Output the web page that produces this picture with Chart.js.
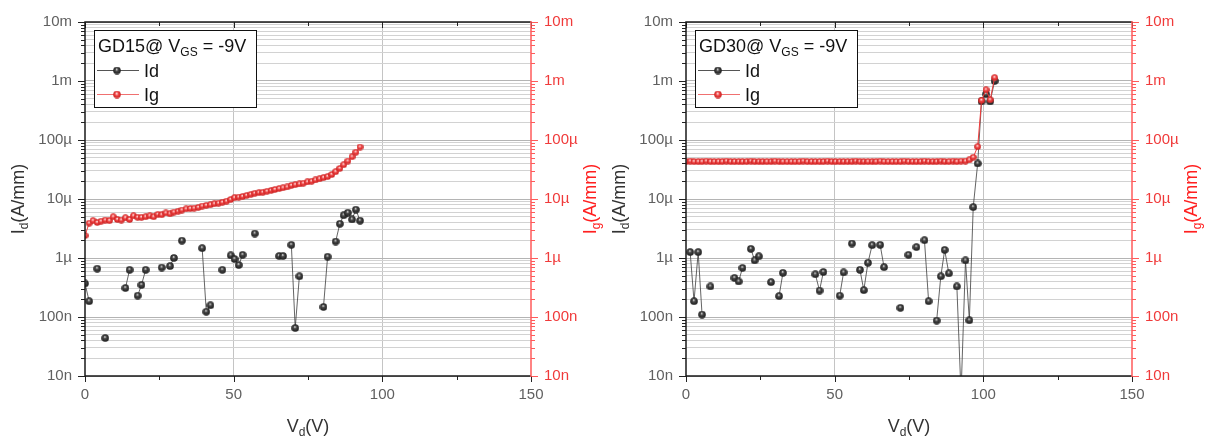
<!DOCTYPE html>
<html>
<head>
<meta charset="utf-8">
<script src="https://cdn.jsdelivr.net/npm/chart.js@4.4.0/dist/chart.umd.min.js"></script>
<style>
  html, body { margin: 0; padding: 0; background: #fff; overflow: hidden; }
  #wrap { position: relative; width: 1205px; height: 436px; }
  canvas { position: absolute; top: 0; }
  #c15 { left: 0; }
  #c30 { left: 601px; }
</style>
</head>
<body>
<div id="wrap">
  <canvas id="c15" width="604" height="436"></canvas>
  <canvas id="c30" width="604" height="436"></canvas>
</div>
<script>
// drain sweep (V) and currents (A/mm)
const vd15 = [
  0, 1.4, 2.7, 4.1, 5.4, 6.8, 8.2, 9.5, 10.9, 12.2,
  13.6, 15.0, 16.3, 17.7, 19.0, 20.4, 21.8, 23.1, 24.5, 25.8,
  27.2, 28.6, 29.9, 31.3, 32.6, 34.0, 35.4, 36.7, 38.1, 39.4,
  40.8, 42.2, 43.5, 44.9, 46.2, 47.6, 49.0, 50.3, 51.7, 53.0,
  54.4, 55.8, 57.1, 58.5, 59.8, 61.2, 62.6, 63.9, 65.3, 66.6,
  68.0, 69.4, 70.7, 72.1, 73.4, 74.8, 76.2, 77.5, 78.9, 80.2,
  81.6, 83.0, 84.3, 85.7, 87.0, 88.4, 89.8, 91.1, 92.5
];
// null = point not shown on the log axis (line breaks there)
const id15 = [
  3.7e-7, 1.85e-7, null, 6.6e-7, null, 4.4e-8, null, null, null, null,
  3.1e-7, 6.3e-7, null, 2.3e-7, 3.5e-7, 6.3e-7, null, null, null, 6.9e-7,
  null, 7.3e-7, 1.0e-6, null, 1.97e-6, null, null, null, null, 1.47e-6,
  1.23e-7, 1.58e-7, null, null, 6.3e-7, null, 1.11e-6, 9.6e-7, 7.6e-7, 1.13e-6,
  null, null, 2.6e-6, null, null, null, null, null, 1.08e-6, 1.08e-6,
  null, 1.67e-6, 6.5e-8, 4.9e-7, null, null, null, null, null, 1.48e-7,
  1.05e-6, null, 1.9e-6, 3.8e-6, 5.3e-6, 5.85e-6, 4.5e-6, 6.6e-6, 4.3e-6
];
const ig15 = [
  2.4e-6, 3.9e-6, 4.3e-6, 4.0e-6, 4.2e-6, 4.4e-6, 4.3e-6, 5.0e-6, 4.5e-6, 4.4e-6,
  4.8e-6, 4.5e-6, 5.2e-6, 4.9e-6, 4.9e-6, 5.0e-6, 5.2e-6, 5.0e-6, 5.5e-6, 5.4e-6,
  5.8e-6, 5.6e-6, 6.0e-6, 6.2e-6, 6.5e-6, 6.8e-6, 6.9e-6, 7.0e-6, 7.2e-6, 7.6e-6,
  7.8e-6, 8.0e-6, 8.3e-6, 8.5e-6, 8.8e-6, 9.2e-6, 9.8e-6, 1.05e-5, 1.08e-5, 1.1e-5,
  1.15e-5, 1.2e-5, 1.25e-5, 1.28e-5, 1.3e-5, 1.35e-5, 1.4e-5, 1.45e-5, 1.5e-5, 1.55e-5,
  1.6e-5, 1.7e-5, 1.75e-5, 1.8e-5, 1.85e-5, 1.95e-5, 2.0e-5, 2.1e-5, 2.2e-5, 2.3e-5,
  2.4e-5, 2.6e-5, 2.9e-5, 3.3e-5, 3.8e-5, 4.4e-5, 5.2e-5, 6.2e-5, 7.6e-5
];

const vd30 = [
  0, 1.4, 2.7, 4.1, 5.4, 6.8, 8.2, 9.5, 10.9, 12.2,
  13.6, 15.0, 16.3, 17.7, 19.0, 20.4, 21.8, 23.1, 24.5, 25.8,
  27.2, 28.6, 29.9, 31.3, 32.6, 34.0, 35.4, 36.7, 38.1, 39.4,
  40.8, 42.2, 43.5, 44.9, 46.2, 47.6, 49.0, 50.3, 51.7, 53.0,
  54.4, 55.8, 57.1, 58.5, 59.8, 61.2, 62.6, 63.9, 65.3, 66.6,
  68.0, 69.4, 70.7, 72.1, 73.4, 74.8, 76.2, 77.5, 78.9, 80.2,
  81.6, 83.0, 84.3, 85.7, 87.0, 88.4, 89.8, 91.1, 92.5, 94.0,
  95.3, 96.6, 98.1, 99.4, 100.9, 102.3, 103.8
];
const id30 = [
  null, 1.26e-6, 1.85e-7, 1.26e-6, 1.1e-7, null, 3.3e-7, null, null, null,
  null, null, 4.6e-7, 4.0e-7, 6.8e-7, null, 1.43e-6, 9.1e-7, 1.07e-6, null,
  null, 3.9e-7, null, 2.26e-7, 5.6e-7, null, null, null, null, null,
  null, null, 5.3e-7, 2.8e-7, 5.8e-7, null, null, null, 2.3e-7, 5.7e-7,
  null, 1.76e-6, null, 6.3e-7, 2.85e-7, 8.3e-7, 1.65e-6, null, 1.67e-6, 7.0e-7,
  null, null, null, 1.43e-7, null, 1.13e-6, null, 1.53e-6, null, 2.0e-6,
  1.85e-7, null, 8.7e-8, 4.9e-7, 1.37e-6, 5.5e-7, null, 3.3e-7, 5e-9, 9.1e-7,
  8.8e-8, 7.3e-6, 4.0e-5, 4.5e-4, 6.0e-4, 4.5e-4, 1.0e-3
];
const ig30 = [
  4.3e-5, 4.4e-5, 4.3e-5, 4.3e-5, 4.3e-5, 4.4e-5, 4.3e-5, 4.3e-5, 4.3e-5, 4.3e-5,
  4.4e-5, 4.3e-5, 4.3e-5, 4.3e-5, 4.3e-5, 4.3e-5, 4.4e-5, 4.3e-5, 4.3e-5, 4.3e-5,
  4.3e-5, 4.3e-5, 4.4e-5, 4.3e-5, 4.3e-5, 4.3e-5, 4.3e-5, 4.3e-5, 4.3e-5, 4.4e-5,
  4.3e-5, 4.3e-5, 4.3e-5, 4.3e-5, 4.3e-5, 4.4e-5, 4.3e-5, 4.3e-5, 4.3e-5, 4.3e-5,
  4.3e-5, 4.3e-5, 4.4e-5, 4.3e-5, 4.3e-5, 4.3e-5, 4.3e-5, 4.3e-5, 4.4e-5, 4.3e-5,
  4.3e-5, 4.3e-5, 4.3e-5, 4.3e-5, 4.4e-5, 4.3e-5, 4.3e-5, 4.3e-5, 4.3e-5, 4.4e-5,
  4.3e-5, 4.3e-5, 4.3e-5, 4.4e-5, 4.3e-5, 4.3e-5, 4.4e-5, 4.3e-5, 4.4e-5, 4.4e-5,
  4.6e-5, 5.1e-5, 7.7e-5, 4.7e-4, 7.1e-4, 4.8e-4, 1.14e-3
];

const decades = [1e-8, 1e-7, 1e-6, 1e-5, 1e-4, 1e-3, 1e-2];
const decadeLabels = ['10n', '100n', '1µ', '10µ', '100µ', '1m', '10m'];
const xMajor = [0, 50, 100, 150];
const xMinor = [25, 75, 125];

const FONT = '"Liberation Sans", Arial, sans-serif';
const RED = '#f03a3a';
const AXIS_RED = '#ff5a5a';

// shaded ball markers, like the Origin "sphere" symbol
function makeBall(size, mid, dark, hi) {
  const c = document.createElement('canvas');
  c.width = c.height = size;
  const g = c.getContext('2d');
  const r = size / 2;
  const grad = g.createRadialGradient(r * 0.9, r * 0.7, 0, r, r, r);
  grad.addColorStop(0, '#ffffff');
  grad.addColorStop(hi, mid);
  grad.addColorStop(1, dark);
  g.fillStyle = grad;
  g.beginPath();
  g.arc(r, r, r - 0.2, 0, Math.PI * 2);
  g.fill();
  return c;
}
const blackBall = makeBall(8, '#4a4a4a', '#161616', 0.35);
const redBall = makeBall(7, '#f04444', '#c41c1c', 0.45);
const blackKey = makeBall(8, '#4a4a4a', '#161616', 0.35);
const redKey = makeBall(8, '#f04444', '#c41c1c', 0.45);

function isDecade(v) {
  return decades.includes(v);
}

function logTicks(scale) {
  const t = [];
  decades.forEach((d, i) => {
    if (i === decades.length - 1) {
      t.push({ value: d });
      return;
    }
    for (let m = 1; m < 10; m++) t.push({ value: d * m });
  });
  scale.ticks = t;
}

// text with a subscript part: [['I'], ['d', true], ['(A/mm)']]
function drawParts(ctx, parts, x, y, size) {
  const big = size + 'px ' + FONT;
  const small = Math.round(size * 0.66) + 'px ' + FONT;
  let w = 0;
  parts.forEach(p => {
    ctx.font = p[1] ? small : big;
    w += ctx.measureText(p[0]).width;
  });
  let cx = x - w / 2;
  ctx.textAlign = 'left';
  ctx.textBaseline = 'alphabetic';
  parts.forEach(p => {
    ctx.font = p[1] ? small : big;
    ctx.fillText(p[0], cx, p[1] ? y + 4 : y);
    cx += ctx.measureText(p[0]).width;
  });
  return w;
}

const decor = {
  id: 'decor',
  afterDraw(chart, args, opts) {
    const ctx = chart.ctx;
    const { left, right, top, bottom } = chart.chartArea;
    const ys = chart.scales.y;
    const xs = chart.scales.x;
    ctx.save();

    // tick marks
    ctx.lineWidth = 1;
    ys.ticks.forEach(t => {
      const py = Math.round(ys.getPixelForValue(t.value)) + 0.5;
      const len = isDecade(t.value) ? 7 : 4;
      ctx.strokeStyle = '#222';
      ctx.beginPath();
      ctx.moveTo(left - len, py);
      ctx.lineTo(left, py);
      ctx.stroke();
      ctx.strokeStyle = AXIS_RED;
      ctx.beginPath();
      ctx.moveTo(right, py);
      ctx.lineTo(right + len, py);
      ctx.stroke();
    });
    ctx.strokeStyle = '#222';
    xMajor.concat(xMinor).forEach(v => {
      const px = Math.round(xs.getPixelForValue(v)) + 0.5;
      const len = xMajor.includes(v) ? 6 : 4;
      ctx.beginPath();
      ctx.moveTo(px, bottom);
      ctx.lineTo(px, bottom + len);
      ctx.moveTo(px, top);
      ctx.lineTo(px, top + len);
      ctx.stroke();
    });

    // frame
    ctx.lineWidth = 1.5;
    ctx.strokeStyle = '#1a1a1a';
    ctx.beginPath();
    ctx.moveTo(right, top);
    ctx.lineTo(left, top);
    ctx.lineTo(left, bottom);
    ctx.lineTo(right, bottom);
    ctx.stroke();
    ctx.strokeStyle = AXIS_RED;
    ctx.beginPath();
    ctx.moveTo(right, top - 1);
    ctx.lineTo(right, bottom + 1);
    ctx.stroke();

    // axis titles
    ctx.fillStyle = '#333';
    drawParts(ctx, [['V'], ['d', true], ['(V)']], (left + right) / 2, 432, 18);
    const midY = (top + bottom) / 2;
    ctx.save();
    ctx.translate(24, midY);
    ctx.rotate(-Math.PI / 2);
    drawParts(ctx, [['I'], ['d', true], ['(A/mm)']], 0, 0, 18);
    ctx.restore();
    ctx.save();
    ctx.fillStyle = '#ff2020';
    ctx.translate(596, midY);
    ctx.rotate(-Math.PI / 2);
    drawParts(ctx, [['I'], ['g', true], ['(A/mm)']], 0, 0, 18);
    ctx.restore();

    // legend box
    const bx = 94.5, by = 30.5, bw = 162, bh = 77;
    ctx.fillStyle = '#fff';
    ctx.fillRect(bx, by, bw, bh);
    ctx.lineWidth = 1;
    ctx.strokeStyle = '#111';
    ctx.strokeRect(bx, by, bw, bh);
    ctx.fillStyle = '#111';
    ctx.textAlign = 'left';
    ctx.textBaseline = 'alphabetic';
    let tx = 98;
    const head = [[opts.name + '@ V'], ['GS', true], [' = -9V']];
    head.forEach(p => {
      ctx.font = (p[1] ? '12px ' : '18px ') + FONT;
      ctx.fillText(p[0], tx, p[1] ? 56 : 52);
      tx += ctx.measureText(p[0]).width;
    });
    const rows = [
      { y: 70, color: '#555', ball: blackKey, label: 'Id' },
      { y: 94, color: '#f07070', ball: redKey, label: 'Ig' }
    ];
    rows.forEach(r => {
      ctx.strokeStyle = r.color;
      ctx.lineWidth = 1;
      ctx.beginPath();
      ctx.moveTo(97, r.y + 0.5);
      ctx.lineTo(139, r.y + 0.5);
      ctx.stroke();
      ctx.drawImage(r.ball, 113, r.y - 3.5);
      ctx.fillStyle = '#111';
      ctx.font = '18px ' + FONT;
      ctx.fillText(r.label, 144, r.y + 7);
    });
    ctx.restore();
  }
};

function makeChart(canvasId, name, vd, id, ig) {
  const idPts = vd.map((v, i) => ({ x: v, y: id[i] }));
  const igPts = vd.map((v, i) => ({ x: v, y: ig[i] }));
  const canvas = document.getElementById(canvasId);
  return new Chart(canvas, {
    type: 'line',
    data: {
      datasets: [
        {
          label: 'Ig',
          data: igPts,
          yAxisID: 'y2',
          order: 0,
          borderColor: RED,
          borderWidth: 1,
          pointStyle: redBall,
          pointRadius: 3.5,
          spanGaps: false,
          clip: 0
        },
        {
          label: 'Id',
          data: idPts,
          yAxisID: 'y',
          order: 1,
          borderColor: '#3c3c3c',
          borderWidth: 0.8,
          pointStyle: blackBall,
          pointRadius: 4,
          spanGaps: false,
          clip: 0
        }
      ]
    },
    options: {
      responsive: false,
      animation: false,
      devicePixelRatio: 1,
      layout: { padding: { top: 16, left: 0, right: 0, bottom: 0 } },
      plugins: {
        legend: { display: false },
        tooltip: { enabled: false },
        decor: { name: name }
      },
      scales: {
        x: {
          type: 'linear',
          min: 0,
          max: 150,
          afterBuildTicks: s => { s.ticks = xMajor.map(v => ({ value: v })); },
          afterFit: s => { s.height = 60; },
          border: { display: false },
          grid: {
            drawTicks: false,
            color: c => (c.tick && (c.tick.value === 50 || c.tick.value === 100)) ? '#c4c4c4' : 'rgba(0,0,0,0)'
          },
          ticks: {
            padding: 10,
            color: '#606060',
            font: { family: FONT, size: 15 },
            maxRotation: 0
          }
        },
        y: {
          type: 'logarithmic',
          position: 'left',
          min: 1e-8,
          max: 1e-2,
          afterBuildTicks: logTicks,
          afterFit: s => { s.width = 85; },
          border: { display: false },
          grid: {
            drawTicks: false,
            color: c => (c.tick && isDecade(c.tick.value)) ? '#b4b4b4' : '#d2d2d2'
          },
          ticks: {
            autoSkip: false,
            padding: 13,
            color: '#606060',
            font: { family: FONT, size: 15 },
            callback: v => {
              const k = decades.indexOf(v);
              return k >= 0 ? decadeLabels[k] : '';
            }
          }
        },
        y2: {
          type: 'logarithmic',
          position: 'right',
          min: 1e-8,
          max: 1e-2,
          afterBuildTicks: logTicks,
          afterFit: s => { s.width = canvas.width - 531; },
          border: { display: false },
          grid: { drawTicks: false, drawOnChartArea: false },
          ticks: {
            autoSkip: false,
            padding: 13,
            color: RED,
            font: { family: FONT, size: 15 },
            callback: v => {
              const k = decades.indexOf(v);
              return k >= 0 ? decadeLabels[k] : '';
            }
          }
        }
      }
    },
    plugins: [decor]
  });
}

makeChart('c15', 'GD15', vd15, id15, ig15);
makeChart('c30', 'GD30', vd30, id30, ig30);
</script>
</body>
</html>
